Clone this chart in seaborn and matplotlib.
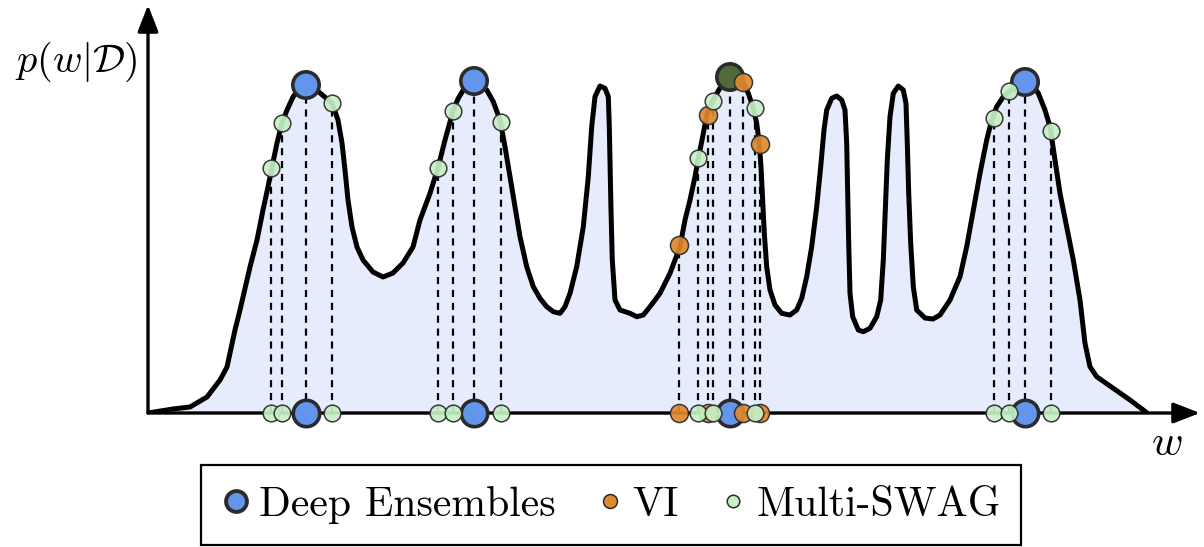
import matplotlib
matplotlib.use("Agg")
import matplotlib.pyplot as plt
from matplotlib.lines import Line2D
import pandas as pd
import seaborn as sns

# ---------------- data ----------------
curve_w = [0, 25, 42, 59, 72, 79, 87, 92, 102, 109, 115, 120, 124, 129, 134, 139, 145, 152, 158, 165,
           172, 184, 190, 194, 197, 200, 204, 209, 215, 225, 235, 245, 255, 265,
           272, 282, 290.3, 297, 305.3, 310.3, 315.3, 320.3, 325.3, 332, 338.7, 345.3, 352, 357, 362,
           367, 372, 378.7, 385.3, 392, 398.7, 405.3, 412, 417, 422, 428.7, 435.3, 440.3, 443.7, 447,
           452, 457, 460.3, 461.3, 462, 463, 464.3, 467, 472, 482, 488.7, 495.3, 502, 512, 522, 532,
           537, 542, 547, 550.3, 554.7, 558.7, 563.7, 567, 573.7, 582, 590.3, 595.3, 600.3, 605.3,
           608.7, 611.3, 613, 614.7, 616.3, 618.7, 622, 627, 633.7, 642, 648.7, 653.7, 658.7, 663.7,
           668.7, 672.7, 676, 678.7, 683.7, 688.7, 693.7, 697, 698.7, 699.7, 700.7, 702, 704.7, 710.3,
           715.3, 722, 728.7, 732.7, 735.3, 737.3, 739.3, 742, 745.3, 750.3, 755.3, 758, 759.3, 760.7,
           762.7, 765.3, 768.7, 777, 785, 792, 802, 812, 818.7, 825.3, 832, 838.7, 843.7, 848.7, 855.3,
           862, 870.3, 877, 885.3, 890.3, 897, 902, 907, 912, 918.7, 925.3, 932, 937, 942, 948.7,
           965.3, 982, 995.3, 999]
curve_p = [0, 4, 6, 16, 33, 46, 83, 103, 146, 173, 203, 226, 246, 270, 290, 303, 316, 325, 328, 326,
           320, 310, 293, 270, 243, 213, 186, 166, 153, 141, 136, 140, 150, 166,
           193, 219.7, 246.3, 273, 303, 314.7, 323, 328, 329.7, 328, 323, 311.3, 293, 266.3, 236.3,
           206.3, 176.3, 146.3, 126.3, 114.7, 106.3, 101.3, 99.7, 106.3, 119.7, 146.3, 186.3, 236.3,
           286.3, 316.3, 327, 324.7, 316.3, 286.3, 253, 203, 153, 113, 103, 99.7, 96.3, 98, 106.3,
           119.7, 139.7, 166.3, 193, 213, 236.3, 254.7, 276.3, 298, 309.7, 316.3, 328, 336.3, 334.7,
           329.7, 319.7, 304.7, 289.7, 269.7, 246.3, 213, 179.7, 146.3, 123, 108, 99.7, 98, 103,
           114.7, 136.3, 166.3, 206.3, 246.3, 283, 303, 314.7, 317, 313, 303, 269.7, 219.7, 169.7,
           119.7, 96.3, 83, 81.3, 84.7, 96.3, 113, 153, 203, 253, 296.3, 319.7, 327, 323, 309.7, 269.7,
           219.7, 169.7, 126.3, 103, 95, 94, 98, 113, 136.3, 166.3, 203, 239.7, 273, 293, 306.3,
           316.3, 322.3, 328, 330.3, 327, 319.7, 303, 286.3, 253, 219.7, 186.3, 153, 113, 69.7, 46.3,
           36.3, 24.7, 13, 3, 0]

de_w = [158, 326, 582, 877]
de_p = [328, 332, 336, 331]

vi_w = [531, 560, 595, 612]
vi_p = [168, 298, 331, 269]

swag_w = [123, 134, 184, 290, 305, 353, 550, 565, 607, 846, 861, 903]
swag_p = [245, 290, 310, 245, 302, 291, 255, 312, 305, 295, 322, 282]

legend_labels = ["Deep Ensembles", "VI", "Multi-SWAG"]

# ---------------- style ----------------
sns.set_theme(style="white")
plt.rcParams["mathtext.fontset"] = "cm"
plt.rcParams["axes.formatter.use_mathtext"] = True
plt.rcParams["text.color"] = "black"

BLUE = "#6495ED"
DARK_TOP = "#4f6b3a"
ORANGE = "#E0892E"
GREEN = "#C6F0C6"
EDGE = "#2b2b2b"
FILL = "#E6ECFB"

fig = plt.figure(figsize=(12.04, 5.47), dpi=100)
ax = fig.add_axes([148 / 1204, 134 / 547, 1052 / 1204, 408 / 547])
ax.set_xlim(0, 1052)
ax.set_ylim(0, 408)
ax.axis("off")

curve = pd.DataFrame({"w": curve_w, "p": curve_p})
ax.fill_between(curve["w"], 0, curve["p"], color=FILL, zorder=1, linewidth=0)

# dashed drop lines
all_w = de_w + vi_w + swag_w
all_p = de_p + vi_p + swag_p
ax.vlines(all_w, 0, all_p, colors="black", linestyles=(0, (3.2, 2.6)), linewidth=1.6, zorder=2)

sns.lineplot(data=curve, x="w", y="p", color="black", linewidth=3.6, sort=False,
             ax=ax, zorder=3, solid_joinstyle="round", solid_capstyle="round")

# axes arrows
for tip in [(1.0, 0), (0, 1.0)]:
    ax.annotate("", xy=tip, xytext=(0, 0), xycoords="axes fraction",
                arrowprops=dict(arrowstyle="-|>,head_length=0.9,head_width=0.35", color="black",
                                lw=2.4, mutation_scale=18, shrinkA=0, shrinkB=0), zorder=4)

# markers: Deep Ensembles
de_top_colors = [BLUE, BLUE, DARK_TOP, BLUE]
ax.scatter(de_w, de_p, s=19 ** 2, c=de_top_colors, edgecolors=EDGE, linewidths=2.6,
           zorder=5, clip_on=False)
sns.scatterplot(x=de_w, y=[0] * len(de_w), s=19 ** 2, color=BLUE, edgecolor=EDGE, linewidth=2.6,
                ax=ax, zorder=5, clip_on=False, legend=False)
# VI
sns.scatterplot(x=vi_w + vi_w, y=vi_p + [0] * len(vi_w), s=13 ** 2, color=ORANGE, edgecolor=EDGE,
                linewidth=1.1, alpha=0.92, ax=ax, zorder=6, clip_on=False, legend=False)
# Multi-SWAG
sns.scatterplot(x=swag_w + swag_w, y=swag_p + [0] * len(swag_w), s=12 ** 2, color=GREEN,
                edgecolor=EDGE, linewidth=1.1, alpha=0.92, ax=ax, zorder=7, clip_on=False,
                legend=False)

# axis labels
fig.text(76 / 1204, 1 - 62 / 547, r"$p(w|\mathcal{D})$", fontsize=29, ha="center", va="center")
fig.text(1167 / 1204, 1 - 443 / 547, r"$w$", fontsize=31, ha="center", va="center")

# legend
handles = [
    Line2D([], [], linestyle="none", marker="o", markersize=15, markerfacecolor=BLUE,
           markeredgecolor=EDGE, markeredgewidth=2.8),
    Line2D([], [], linestyle="none", marker="o", markersize=10, markerfacecolor=ORANGE,
           markeredgecolor=EDGE, markeredgewidth=1.1),
    Line2D([], [], linestyle="none", marker="o", markersize=9, markerfacecolor=GREEN,
           markeredgecolor=EDGE, markeredgewidth=1.1),
]
leg = fig.legend(handles, legend_labels, loc="center", bbox_to_anchor=(611 / 1204, 1 - 505 / 547),
                 ncol=3, frameon=True, fancybox=False, framealpha=1, edgecolor="black",
                 prop={"family": "cmr10", "size": 30}, handlelength=0.7, handletextpad=0.2,
                 columnspacing=0.95, borderpad=0.5, borderaxespad=0)
leg.get_frame().set_linewidth(1.6)

fig.savefig("out.png", dpi=100)
